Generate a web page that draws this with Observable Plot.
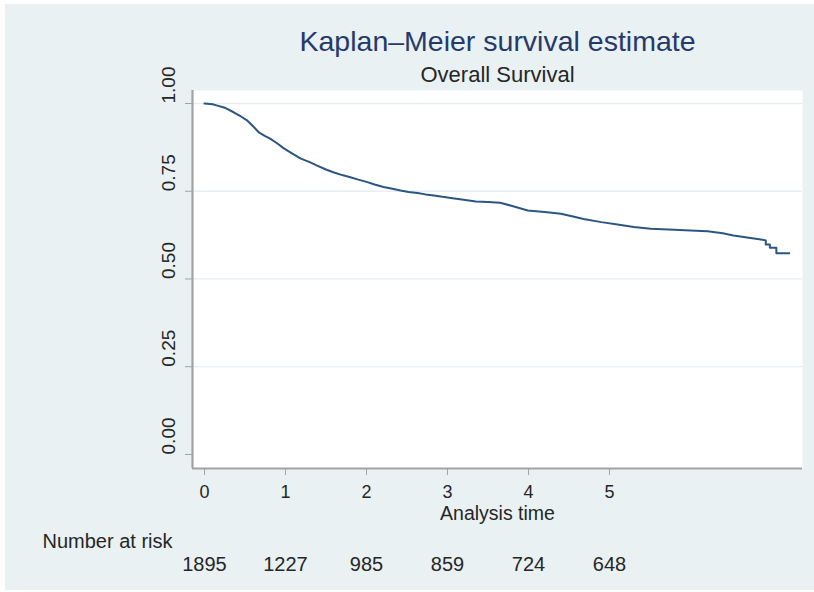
<!DOCTYPE html>
<html>
<head>
<meta charset="utf-8">
<script src="https://cdn.jsdelivr.net/npm/d3@7"></script>
<script src="https://cdn.jsdelivr.net/npm/@observablehq/plot@0.6"></script>
<style>
  html, body { margin: 0; padding: 0; background: #ffffff; width: 814px; height: 592px; overflow: hidden; }
  #chart { position: absolute; left: 5px; top: 4px; }
</style>
</head>
<body>
<div id="chart"></div>
<script>
// ---- data ----
const titleText = "Kaplan–Meier survival estimate";
const subtitleText = "Overall Survival";
const xTitle = "Analysis time";
const riskTitle = "Number at risk";

const time = [0, 0.10, 0.16, 0.25, 0.36, 0.45, 0.53, 0.60, 0.67, 0.75, 0.81, 0.90, 0.98,
  1.08, 1.19, 1.30, 1.39, 1.50, 1.59, 1.70, 1.80, 1.90, 2.01, 2.10, 2.21, 2.32, 2.42,
  2.52, 2.63, 2.73, 2.83, 2.94, 3.04, 3.20, 3.35, 3.50, 3.65, 3.80, 3.99, 4.20, 4.40,
  4.55, 4.68, 4.90, 5.10, 5.30, 5.51, 5.80, 6.00, 6.21, 6.40, 6.53, 6.70, 6.89,
  6.93, 6.93, 6.98, 6.98, 7.06, 7.06, 7.22];
const survival = [1.000, 0.998, 0.994, 0.988, 0.975, 0.963, 0.951, 0.935, 0.918, 0.907, 0.900, 0.886, 0.872,
  0.858, 0.843, 0.833, 0.823, 0.812, 0.804, 0.796, 0.790, 0.783, 0.776, 0.769, 0.762, 0.757, 0.752,
  0.748, 0.745, 0.741, 0.738, 0.734, 0.731, 0.726, 0.721, 0.719, 0.717, 0.708, 0.695, 0.691, 0.686,
  0.678, 0.671, 0.662, 0.655, 0.648, 0.643, 0.640, 0.638, 0.636, 0.630, 0.624, 0.618, 0.612,
  0.610, 0.598, 0.598, 0.589, 0.589, 0.573, 0.573];

const xTicks = [0, 1, 2, 3, 4, 5];
const yTicks = [0, 0.25, 0.5, 0.75, 1];
const yGrid = [0.25, 0.5, 0.75, 1];
const riskTimes = [0, 1, 2, 3, 4, 5];
const atRisk = [1895, 1227, 985, 859, 724, 648];

const xDomain = [-0.148, 7.383];
const yDomain = [-0.040, 1.037];

// ---- tables built from the arrays ----
const km = time.map((t, i) => ({t, s: survival[i]}));
const riskTable = riskTimes.map((t, i) => ({t, n: atRisk[i]}));

const bg = "#e9f1f3";
const gridColor = "#e6eef1";
const axisColor = "#a3a3a3";
const lineColor = "#2c5682";
const textColor = "#262626";
const titleColor = "#27396a";

const chart = Plot.plot({
  width: 809,
  height: 586,
  marginLeft: 187,
  marginRight: 12,
  marginTop: 86,
  marginBottom: 122,
  x: {domain: xDomain},
  y: {domain: yDomain},
  style: {
    background: bg,
    fontFamily: "'Liberation Sans', Arial, Helvetica, sans-serif",
    fontSize: "19px",
    color: textColor,
    overflow: "visible"
  },
  marks: [
    Plot.frame({fill: "white", stroke: null}),
    Plot.ruleY(yGrid, {stroke: gridColor, strokeWidth: 1.3}),
    Plot.line(km, {x: "t", y: "s", stroke: lineColor, strokeWidth: 2}),
    Plot.ruleX([xDomain[0]], {stroke: axisColor, strokeWidth: 2.2}),
    Plot.ruleY([yDomain[0]], {stroke: axisColor, strokeWidth: 2.2}),
    Plot.axisX(xTicks, {tickSize: 7, tickPadding: 10, tickFormat: "d", label: null, stroke: axisColor, fill: textColor, fontSize: 18}),
    Plot.axisY(yTicks, {tickSize: 7, tickFormat: () => "", label: null, stroke: axisColor}),
    Plot.text(yTicks, {y: d => d, text: d => d3.format(".2f")(d), frameAnchor: "left", dx: -24, rotate: -90, fontSize: 19, fill: textColor}),
    Plot.text([titleText], {text: d => d, frameAnchor: "top", dy: -40, lineAnchor: "bottom", fontSize: 28.5, fill: titleColor}),
    Plot.text([subtitleText], {text: d => d, frameAnchor: "top", dy: -9, lineAnchor: "bottom", fontSize: 22, fill: textColor}),
    Plot.text([xTitle], {text: d => d, frameAnchor: "bottom", dy: 51, lineAnchor: "bottom", fontSize: 19.5, fill: textColor}),
    Plot.text([riskTitle], {text: d => d, frameAnchor: "bottom-left", dx: -150, dy: 79, textAnchor: "start", lineAnchor: "bottom", fontSize: 20, fill: textColor}),
    Plot.text(riskTable, {x: "t", text: d => String(d.n), frameAnchor: "bottom", dy: 102, lineAnchor: "bottom", fontSize: 20, fill: textColor})
  ]
});
document.getElementById("chart").appendChild(chart);
</script>
</body>
</html>
